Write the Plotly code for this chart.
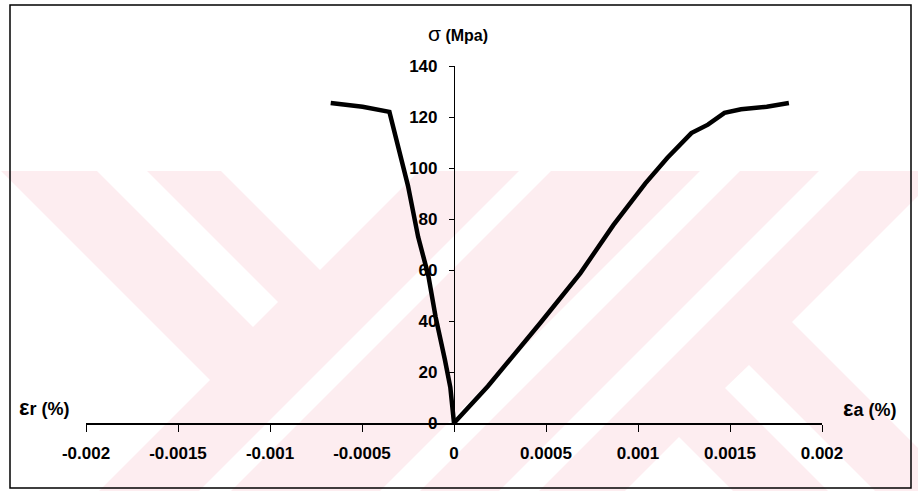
import plotly.graph_objects as go

# ---- data ----
radial_strain = [0, -0.000008, -0.00002, -0.00005, -0.0001, -0.00014, -0.000195,
                 -0.00025, -0.0003, -0.000351, -0.000497, -0.00067]
radial_stress = [0, 5, 14, 25, 41.6, 58, 73, 93, 107, 122, 124, 125.5]

axial_strain = [0, 0.000184, 0.00047, 0.000687, 0.000866, 0.00104, 0.00116, 0.00129,
                0.00138, 0.00147, 0.00156, 0.0017, 0.00182]
axial_stress = [0, 14.4, 39.3, 58.8, 77.6, 94, 104, 113.7, 117, 121.6, 123, 124, 125.5]

x_tickvals = [-0.002, -0.0015, -0.001, -0.0005, 0, 0.0005, 0.001, 0.0015, 0.002]
x_ticktext = ["-0.002", "-0.0015", "-0.001", "-0.0005", "0", "0.0005", "0.001", "0.0015", "0.002"]
y_tickvals = [0, 20, 40, 60, 80, 100, 120, 140]

W, H = 918, 491
L, R, T, B = 86, 96, 66, 68
PW, PH = W - L - R, H - T - B


def px(x):
    return (x - L) / PW


def py(y):
    return (H - B - y) / PH


def poly(pts):
    return "M " + " L ".join(f"{px(a):.5f},{py(b):.5f}" for a, b in pts) + " Z"


PINK = "#fdedf0"
shapes = []
# watermark background band
shapes.append(dict(type="path", xref="paper", yref="paper", layer="below",
                   path=poly([(0, 171), (W, 171), (W, H), (0, H)]),
                   fillcolor=PINK, line=dict(width=0)))
white_polys = [
    [(0, 170), (210, 380), (99, 491), (0, 491)],
    [(97, 171), (147, 171), (278, 302), (253, 327)],
    [(221, 171), (419, 171), (320, 270)],
    [(519, 171), (551, 171), (231, 491), (199, 491)],
    [(700, 171), (740, 171), (420, 491), (380, 491)],
    [(819, 171), (859, 171), (539, 491), (499, 491)],
    [(792, 322), (918, 196), (918, 448)],
    [(749, 365), (875, 491), (828, 491), (725, 388)],
    [(679, 437), (733, 491), (625, 491)],
]
for p in white_polys:
    shapes.append(dict(type="path", xref="paper", yref="paper", layer="below",
                       path=poly(p), fillcolor="white", line=dict(width=0)))
# outer frame
shapes.append(dict(type="rect", xref="paper", yref="paper", layer="above",
                   x0=px(10), x1=px(911), y0=py(488), y1=py(5),
                   line=dict(color="black", width=1.5), fillcolor="rgba(0,0,0,0)"))

FONT = "Liberation Sans, Arial, sans-serif"

fig = go.Figure()
fig.add_trace(go.Scatter(x=radial_strain, y=radial_stress, mode="lines",
                         line=dict(color="black", width=4.5), showlegend=False))
fig.add_trace(go.Scatter(x=axial_strain, y=axial_stress, mode="lines",
                         line=dict(color="black", width=4.5), showlegend=False))

annotations = [
    dict(x=px(458), y=py(33), xref="paper", yref="paper", showarrow=False,
         xanchor="center", yanchor="middle",
         text="<span style='font-size:21px'>σ</span> <b>(Mpa)</b>",
         font=dict(family=FONT, size=16, color="black")),
    dict(x=px(44), y=py(407), xref="paper", yref="paper", showarrow=False,
         xanchor="center", yanchor="middle",
         text="<b><span style='font-size:22px'>ε</span>r (%)</b>",
         font=dict(family=FONT, size=18, color="black")),
    dict(x=px(869), y=py(408), xref="paper", yref="paper", showarrow=False,
         xanchor="center", yanchor="middle",
         text="<b><span style='font-size:22px'>ε</span>a (%)</b>",
         font=dict(family=FONT, size=18, color="black")),
]

fig.update_layout(
    width=W, height=H,
    margin=dict(l=L, r=R, t=T, b=B, pad=0),
    paper_bgcolor="white",
    plot_bgcolor="rgba(0,0,0,0)",
    shapes=shapes,
    annotations=annotations,
    xaxis=dict(range=[-0.002, 0.002], tickvals=x_tickvals, ticktext=x_ticktext,
               showgrid=False, zeroline=False, showline=True, linecolor="black",
               linewidth=1.8, ticks="outside", ticklen=7, tickwidth=1.2, tickcolor="black",
               ticklabelstandoff=7,
               tickfont=dict(family=FONT, size=17, color="black", weight="bold")),
    yaxis=dict(range=[0, 140], tickvals=y_tickvals, anchor="free", position=0.5,
               showgrid=False, zeroline=False, showline=True, linecolor="black",
               linewidth=1.2, ticks="outside", ticklen=5, tickwidth=1.2, tickcolor="black",
               ticklabelstandoff=8,
               tickfont=dict(family=FONT, size=17, color="black", weight="bold")),
)

fig.write_html("out.html", config={"displayModeBar": False},
               post_script="document.body.style.margin='0';")
